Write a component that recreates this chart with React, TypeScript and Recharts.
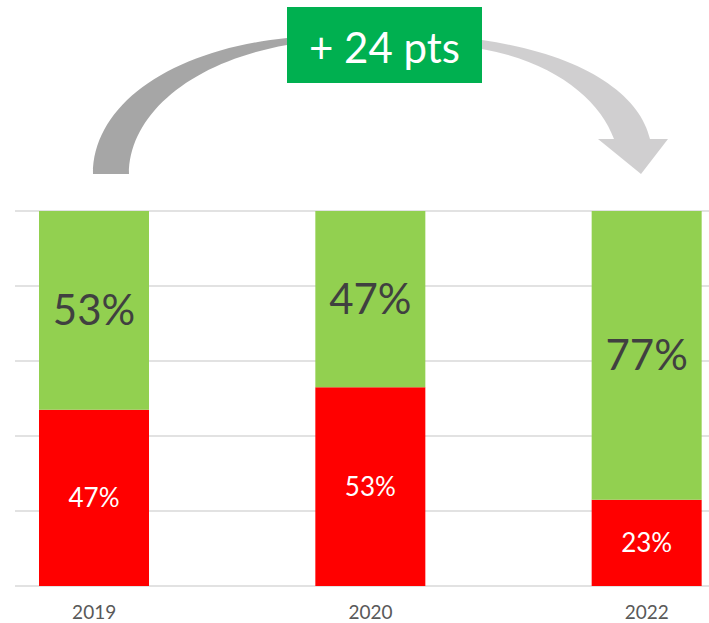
import React from "react";
import { BarChart, Bar, XAxis, YAxis, CartesianGrid, LabelList } from "recharts";

const years = ["2019", "2020", "2022"];
const negative = [47, 53, 23];
const positive = [53, 47, 77];
const yTicks = [0, 20, 40, 60, 80, 100];

const data = years.map((year, i) => ({ year, negative: negative[i], positive: positive[i] }));
const delta = positive[positive.length - 1] - positive[0];

const FONT = "Lato, 'Open Sans', sans-serif";

const ArrowOverlay = () => (
  <svg width={709} height={200} style={{ position: "absolute", left: 0, top: 0 }}>
    <defs>
      <linearGradient id="arrowGrad" x1="0" y1="0" x2="709" y2="0" gradientUnits="userSpaceOnUse">
        <stop offset="0.4" stopColor="#a6a6a6" />
        <stop offset="0.68" stopColor="#d0cfd0" />
      </linearGradient>
    </defs>
    <path
      d="M 93 174 C 93 105, 170 50, 287 38 L 482 40 C 585 55, 640 95, 650 139 L 668 139 L 641 174 L 598 139 L 614 139 C 600 100, 555 62, 482 49 L 287 45 C 190 62, 129 115, 129 174 Z"
      fill="url(#arrowGrad)"
    />
    <rect x={287} y={7} width={195} height={76} fill="#00b050" />
    <text
      x={384.5}
      y={47}
      textAnchor="middle"
      dominantBaseline="central"
      fill="#ffffff"
      fontFamily={FONT}
      fontSize={42}
    >
      {`+ ${delta} pts`}
    </text>
  </svg>
);

export default function App() {
  return (
    <div style={{ position: "absolute", left: 0, top: 0, width: 709, height: 623, background: "#fff" }}>
      <BarChart
        width={709}
        height={623}
        data={data}
        margin={{ top: 211, right: 0, left: 15, bottom: 0 }}
        barSize={110}
      >
        <CartesianGrid vertical={false} stroke="#d9d9d9" strokeWidth={1.5} />
        <XAxis
          dataKey="year"
          axisLine={false}
          tickLine={false}
          tickSize={0}
          tickMargin={20}
          height={37}
          padding={{ left: -59, right: -76 }}
          tick={{ fill: "#595959", fontSize: 19, fontFamily: FONT }}
          interval={0}
        />
        <YAxis hide domain={[0, 100]} ticks={yTicks} />
        <Bar dataKey="negative" stackId="a" fill="#ff0000" isAnimationActive={false}>
          <LabelList
            dataKey="negative"
            position="center"
            formatter={(v: number) => `${v}%`}
            fill="#ffffff"
            fontSize={26}
            fontFamily={FONT}
          />
        </Bar>
        <Bar dataKey="positive" stackId="a" fill="#92d050" isAnimationActive={false}>
          <LabelList
            dataKey="positive"
            position="center"
            formatter={(v: number) => `${v}%`}
            fill="#404040"
            fontSize={42}
            fontFamily={FONT}
          />
        </Bar>
      </BarChart>
      <ArrowOverlay />
    </div>
  );
}
